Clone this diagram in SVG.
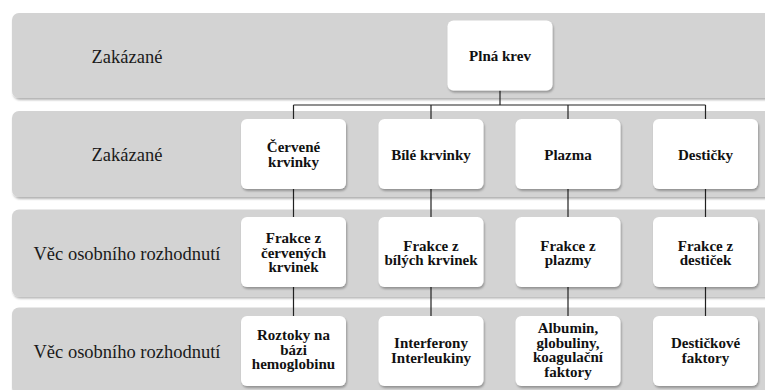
<svg xmlns="http://www.w3.org/2000/svg" width="765" height="390" viewBox="0 0 765 390">
  <defs>
    <filter id="sh" x="-10%" y="-10%" width="130%" height="140%">
      <feDropShadow dx="1" dy="2" stdDeviation="1.3" flood-color="#000" flood-opacity="0.3"/>
    </filter>
    <style>
      .band { fill: #d3d3d3; filter: url(#sh); }
      .box { fill: #ffffff; filter: url(#sh); }
      .lab { font-family: "Liberation Serif", "Times New Roman", serif; font-size: 18.5px; fill: #1a1a1a; text-anchor: middle; }
      .t { font-family: "Liberation Serif", "Times New Roman", serif; font-size: 15px; font-weight: bold; fill: #111; text-anchor: middle; }
      .c { stroke: #222; stroke-width: 1.2; fill: none; }
    </style>
  </defs>
  <rect width="765" height="390" fill="#ffffff"/>

  <g id="lanes">
    <rect class="band" x="12" y="13" width="770" height="85" rx="7"/>
    <rect class="band" x="12" y="111" width="770" height="86" rx="7"/>
    <rect class="band" x="12" y="209.5" width="770" height="87" rx="7"/>
    <rect class="band" x="12" y="307.5" width="770" height="87" rx="7"/>
    <text class="lab" x="127" y="62.5">Zakázané</text>
    <text class="lab" x="127" y="161">Zakázané</text>
    <text class="lab" x="127" y="259.5">Věc osobního rozhodnutí</text>
    <text class="lab" x="127" y="358">Věc osobního rozhodnutí</text>
  </g>

  <g id="connectors">
    <path class="c" d="M500,90.5 V105 M293.5,105 H705.5 M293.5,105 V119 M431,105 V119 M568,105 V119 M705.5,105 V119"/>
    <path class="c" d="M293.5,189 V217 M431,189 V217 M568,189 V217 M705.5,189 V217"/>
    <path class="c" d="M293.5,287 V316 M431,287 V316 M568,287 V316 M705.5,287 V316"/>
  </g>

  <g id="plna-krev">
    <rect class="box" x="447.5" y="20.5" width="105" height="70" rx="6"/>
    <text class="t" x="500" y="60.5">Plná krev</text>
  </g>

  <g id="cervene-krvinky">
    <rect class="box" x="241" y="119" width="105" height="70" rx="6"/>
    <text class="t" x="293.5" y="152">Červené<tspan x="293.5" dy="14.5">krvinky</tspan></text>
  </g>
  <g id="bile-krvinky">
    <rect class="box" x="378.5" y="119" width="105" height="70" rx="6"/>
    <text class="t" x="431" y="159.5">Bílé krvinky</text>
  </g>
  <g id="plazma">
    <rect class="box" x="515.5" y="119" width="105" height="70" rx="6"/>
    <text class="t" x="568" y="159.5">Plazma</text>
  </g>
  <g id="desticky">
    <rect class="box" x="653" y="119" width="105" height="70" rx="6"/>
    <text class="t" x="705.5" y="159.5">Destičky</text>
  </g>

  <g id="frakce-cervenych">
    <rect class="box" x="241" y="217" width="105" height="70" rx="6"/>
    <text class="t" x="293.5" y="243">Frakce z<tspan x="293.5" dy="14.5">červených</tspan><tspan x="293.5" dy="14.5">krvinek</tspan></text>
  </g>
  <g id="frakce-bilych">
    <rect class="box" x="378.5" y="217" width="105" height="70" rx="6"/>
    <text class="t" x="431" y="250.5">Frakce z<tspan x="431" dy="14.5">bílých krvinek</tspan></text>
  </g>
  <g id="frakce-plazmy">
    <rect class="box" x="515.5" y="217" width="105" height="70" rx="6"/>
    <text class="t" x="568" y="250.5">Frakce z<tspan x="568" dy="14.5">plazmy</tspan></text>
  </g>
  <g id="frakce-desticek">
    <rect class="box" x="653" y="217" width="105" height="70" rx="6"/>
    <text class="t" x="705.5" y="250.5">Frakce z<tspan x="705.5" dy="14.5">destiček</tspan></text>
  </g>

  <g id="roztoky">
    <rect class="box" x="241" y="316" width="105" height="70" rx="6"/>
    <text class="t" x="293.5" y="340">Roztoky na<tspan x="293.5" dy="14.5">bázi</tspan><tspan x="293.5" dy="14.5">hemoglobinu</tspan></text>
  </g>
  <g id="interferony">
    <rect class="box" x="378.5" y="316" width="105" height="70" rx="6"/>
    <text class="t" x="431" y="348">Interferony<tspan x="431" dy="14.5">Interleukiny</tspan></text>
  </g>
  <g id="albumin">
    <rect class="box" x="515.5" y="316" width="105" height="70" rx="6"/>
    <text class="t" x="568" y="333">Albumin,<tspan x="568" dy="14.5">globuliny,</tspan><tspan x="568" dy="14.5">koagulační</tspan><tspan x="568" dy="14.5">faktory</tspan></text>
  </g>
  <g id="destickove-faktory">
    <rect class="box" x="653" y="316" width="105" height="70" rx="6"/>
    <text class="t" x="705.5" y="348">Destičkové<tspan x="705.5" dy="14.5">faktory</tspan></text>
  </g>
</svg>
